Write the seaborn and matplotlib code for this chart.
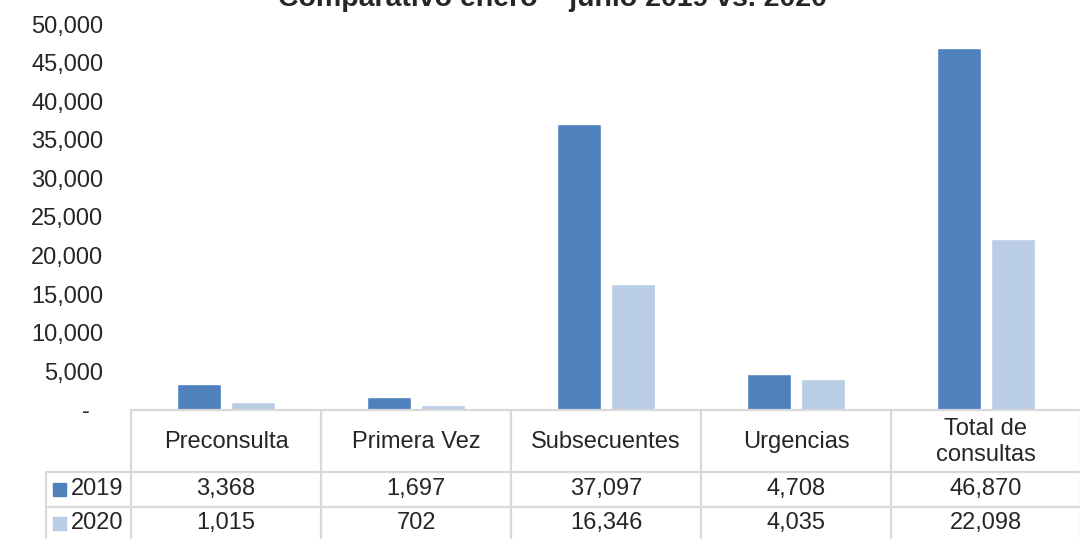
import pandas as pd
import matplotlib.pyplot as plt
import seaborn as sns
from matplotlib.ticker import FuncFormatter, MultipleLocator
from matplotlib.transforms import blended_transform_factory
from matplotlib.patches import Rectangle

# data
categories = ["Preconsulta", "Primera Vez", "Subsecuentes", "Urgencias", "Total de consultas"]
header_labels = ["Preconsulta", "Primera Vez", "Subsecuentes", "Urgencias", "Total de\nconsultas"]
years = ["2019", "2020"]
values_2019 = [3368, 1697, 37097, 4708, 46870]
values_2020 = [1015, 702, 16346, 4035, 22098]
colors = ["#4F81BD", "#B9CDE5"]

df = pd.DataFrame({
    "Categoria": categories * 2,
    "Año": [years[0]] * 5 + [years[1]] * 5,
    "Consultas": values_2019 + values_2020,
})

sns.set_style("white")
plt.rcParams["font.family"] = ["Liberation Sans", "DejaVu Sans"]

W, H = 1080, 539
fig = plt.figure(figsize=(W / 100, H / 100), dpi=100)


def fx(x):
    return x / W


def fy(y):
    return 1 - y / H


ax = fig.add_axes([fx(131), fy(410), fx(950), (410 - 24) / H])
sns.barplot(data=df, x="Categoria", y="Consultas", hue="Año", palette=colors,
            width=0.568, gap=0.2, saturation=1, legend=False, ax=ax)
ax.set_xlim(-0.5, 4.5)
ax.set_ylim(0, 50000)
ax.yaxis.set_major_locator(MultipleLocator(5000))
ax.yaxis.set_major_formatter(FuncFormatter(lambda v, p: "-  " if v == 0 else f"{v:,.0f}"))
ax.tick_params(axis="y", length=0, pad=20, labelsize=17)
ax.set_xticks([])
ax.set_xlabel("")
ax.set_ylabel("")
for s in ax.spines.values():
    s.set_visible(False)

fig.text(fx(552), fy(6), "Comparativo enero – junio 2019 vs. 2020", ha="center",
         va="baseline", fontsize=20.5, fontweight="bold")

# data table under the bars
grid = "#D9D9D9"
tr = blended_transform_factory(ax.transData, fig.transFigure)
ft = fig.transFigure
bottom = 560
for yy, x0 in [(410, 131), (472, 46), (507, 46)]:
    fig.add_artist(plt.Line2D([fx(x0), fx(1081)], [fy(yy), fy(yy)], color=grid, lw=1.6, transform=ft))
fig.add_artist(plt.Line2D([fx(46), fx(46)], [fy(472), fy(bottom)], color=grid, lw=1.6, transform=ft))
for i in range(len(categories) + 1):
    fig.add_artist(plt.Line2D([i - 0.5, i - 0.5], [fy(410), fy(bottom)], color=grid, lw=1.6,
                              transform=tr, clip_on=False))

for i, lab in enumerate(header_labels):
    fig.text(i, fy(442), lab, transform=tr, ha="center", va="center", fontsize=17,
             linespacing=1.25)

for yy, yr, vals, c in [(489, years[0], values_2019, colors[0]),
                        (523, years[1], values_2020, colors[1])]:
    fig.add_artist(Rectangle((fx(53), fy(yy + 6.5)), fx(13), 13 / H, color=c, transform=ft))
    fig.text(fx(71), fy(yy), yr, ha="left", va="center", fontsize=17)
    for i, v in enumerate(vals):
        fig.text(i, fy(yy), f"{v:,}", transform=tr, ha="center", va="center", fontsize=17)

plt.savefig("out.png", dpi=100)
plt.close()
